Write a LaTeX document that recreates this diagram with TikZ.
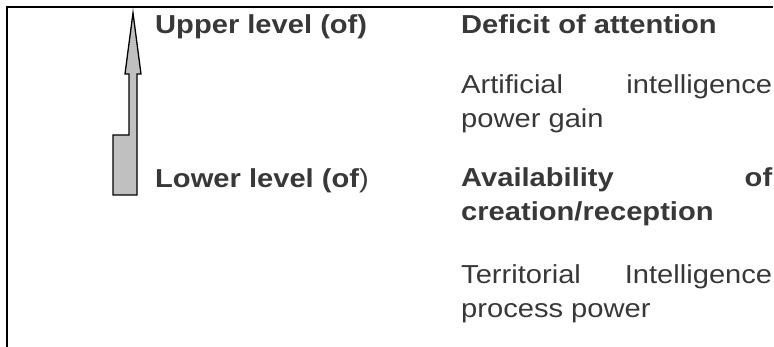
\documentclass[tikz,border=0pt]{standalone}
\usepackage{fontspec}
\setmainfont[FakeStretch=1.12]{Liberation Sans}
\usepackage{tikz}
\definecolor{txtgray}{HTML}{383838}
\definecolor{arrowfill}{HTML}{C0C0C0}

\begin{document}
\begin{tikzpicture}[x=1pt,y=-1pt,
  cell/.style={anchor=base west,inner sep=0pt,text=txtgray,
    font=\fontsize{26}{34}\selectfont},
  para/.style={cell,text width=311pt,align=justify}]
\useasboundingbox (0,0) rectangle (774,347);
\draw[line width=2pt] (7,347)--(7,7)--(773,7);
\draw[line width=1.3pt,fill=arrowfill,line join=miter] (113,195)--(137,195)--(137,74)--(141,74)--(133,13)--(125,74)--(129,74)--(129,135)--(113,135)--cycle;
\node[cell] (upper) at (155,34) {\textbf{Upper level (of)}};
\node[cell] (lower) at (155,188) {\textbf{Lower level (of})};
\node[cell] (deficit) at (461,34) {\textbf{Deficit of attention}};
\node[para] (aigain) at (461,94) {Artificial intelligence\linebreak power gain};
\node[para] (avail) at (461,187) {\textbf{Availability of\linebreak creation/reception}};
\node[para] (territ) at (461,284) {Territorial Intelligence\linebreak process power};
\end{tikzpicture}
\end{document}
